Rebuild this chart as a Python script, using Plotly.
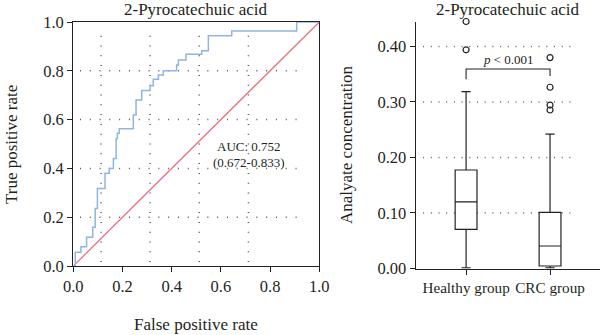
import plotly.graph_objects as go

# ---- data ----
roc_fpr = [0, 0.008, 0.031, 0.054, 0.079, 0.089, 0.098, 0.129, 0.146, 0.163, 0.174, 0.179,
           0.187, 0.244, 0.255, 0.278, 0.312, 0.325, 0.346, 0.366, 0.420, 0.427, 0.458,
           0.522, 0.549, 0.644, 0.908, 1.0]
roc_tpr = [0, 0.056, 0.079, 0.118, 0.159, 0.236, 0.318, 0.380, 0.400, 0.441, 0.523, 0.544,
           0.563, 0.619, 0.680, 0.719, 0.739, 0.765, 0.783, 0.800, 0.824, 0.844, 0.868,
           0.882, 0.944, 0.963, 1.0, 1.0]
diag = [0, 1]
auc_text = ["AUC: 0.752", "(0.672-0.833)"]

groups = ["Healthy group", "CRC group"]
q1 = [0.0706, 0.0045]
median = [0.120, 0.0405]
q3 = [0.1775, 0.101]
lower = [0.001, 0.001]
upper = [0.3185, 0.242]
outliers = [[0.394, 0.445], [0.380, 0.3265, 0.2945, 0.2856]]
title = "2-Pyrocatechuic acid"

W, H = 600, 335
FONT = "Liberation Serif"
INK = "#231f20"

def px(x):
    return x / W

def py(y):
    return 1 - y / H

fig = go.Figure()

# ROC
fig.add_trace(go.Scatter(x=diag, y=diag, mode="lines",
                         line=dict(color="#e8707f", width=1.3),
                         xaxis="x", yaxis="y", showlegend=False))
fig.add_trace(go.Scatter(x=roc_fpr, y=roc_tpr, mode="lines", line_shape="hv",
                         line=dict(color="#8fb5e3", width=1.5),
                         xaxis="x", yaxis="y", showlegend=False))

# Boxes
for i, g in enumerate(groups):
    fig.add_trace(go.Box(x=[i], q1=[q1[i]], median=[median[i]], q3=[q3[i]],
                         lowerfence=[lower[i]], upperfence=[upper[i]],
                         width=0.26, whiskerwidth=0.42, boxpoints=False,
                         fillcolor="white", line=dict(color="#222222", width=1.2),
                         xaxis="x2", yaxis="y2", showlegend=False, name=g))
    fig.add_trace(go.Scatter(x=[i] * len(outliers[i]), y=outliers[i], mode="markers",
                             marker=dict(symbol="circle-open", size=6,
                                         color="#222222", line=dict(width=1.2)),
                             cliponaxis=False,
                             xaxis="x2", yaxis="y2", showlegend=False))

shapes = []
dot_l = dict(color="#555555", width=1.5, dash="1px,8.8px")
for v in [0.113, 0.312, 0.512, 0.712]:
    shapes.append(dict(type="line", xref="x", yref="y", x0=v, x1=v, y0=0.016, y1=0.967,
                       line=dot_l, layer="below"))
for v in [0.2, 0.4, 0.6, 0.8]:
    shapes.append(dict(type="line", xref="x", yref="y", x0=0.027, x1=0.92, y0=v, y1=v,
                       line=dot_l, layer="below"))
dot_r = dict(color="#666666", width=1.5, dash="1px,6.7px")
for v in [0.1, 0.2, 0.3, 0.4]:
    shapes.append(dict(type="line", xref="x2", yref="y2", x0=-0.512, x1=1.262, y0=v, y1=v,
                       line=dot_r, layer="below"))
# p-value bracket
shapes.append(dict(type="path", xref="x2", yref="y2",
                   path="M 0,0.341 L 0,0.3595 L 1,0.3595 L 1,0.347",
                   line=dict(color="#222222", width=1.1)))

def axis_common(size=16.5):
    return dict(showline=True, linecolor="#222222", linewidth=1.3, ticks="outside",
                ticklen=5, tickwidth=1.1, tickcolor="#222222", showgrid=False,
                zeroline=False, automargin=False, tickangle=0,
                tickfont=dict(family=FONT, size=size, color=INK))

fig.update_layout(
    template="none",
    width=W, height=H,
    margin=dict(l=0, r=0, t=0, b=0),
    paper_bgcolor="white", plot_bgcolor="white",
    font=dict(family=FONT, color=INK),
    shapes=shapes,
    xaxis=dict(domain=[px(73.3), px(319.3)], range=[0, 1], mirror=True,
               tickvals=[0, 0.2, 0.4, 0.6, 0.8, 1.0], tickformat=".1f", anchor="y",
               **axis_common()),
    yaxis=dict(domain=[py(266), py(22)], range=[0, 1], mirror=True,
               tickvals=[0, 0.2, 0.4, 0.6, 0.8, 1.0], tickformat=".1f", anchor="x",
               **axis_common()),
    xaxis2=dict(domain=[px(415.7), 1.0], range=[-0.6, 1.595], anchor="y2",
                tickvals=[0, 1], ticktext=groups, **axis_common(15.2)),
    yaxis2=dict(domain=[py(268.5), py(21.5)], range=[0, 0.445], anchor="x2",
                tickvals=[0, 0.1, 0.2, 0.3, 0.4], tickformat=".2f", **axis_common()),
)

def label(text, x, y, size, angle=0, xref="paper", yref="paper"):
    return dict(text=text, x=x, y=y, xref=xref, yref=yref, showarrow=False,
                xanchor="center", yanchor="middle", textangle=angle,
                font=dict(size=size))

ann = [
    label(title, px(196), py(10), 17),
    label(title, px(508), py(10), 17),
    label("True positive rate", px(12), py(145), 17, -90),
    label("False positive rate", px(196), py(324), 17),
    label("Analyate concentration", px(347), py(145), 17, -90),
    label(auc_text[0], px(249), py(146), 13),
    label(auc_text[1], px(249), py(162.5), 13),
    label("<i>p</i> &lt; 0.001", 0.5, 0.377, 13, xref="x2", yref="y2"),
]
fig.update_layout(annotations=ann)

fig.write_html("out.html")
